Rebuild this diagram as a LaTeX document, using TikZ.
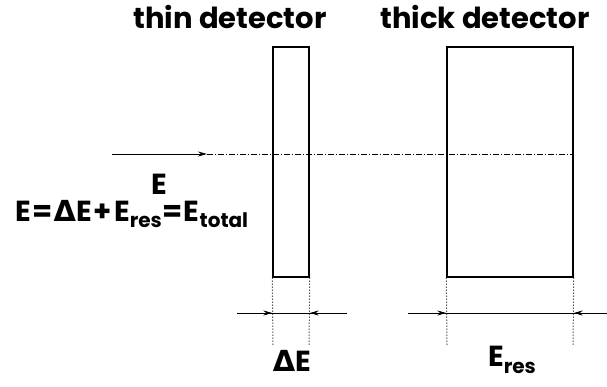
\documentclass[tikz,border=0pt]{standalone}
\usepackage{fontspec}
\setmainfont{Poppins}
\newfontfamily\deltafont{DejaVu Sans}
\usetikzlibrary{arrows.meta,positioning}
\newcommand{\lowsub}[1]{\raisebox{-0.4ex}{\fontsize{20}{20}\selectfont #1}}

\begin{document}
\begin{tikzpicture}[x=1pt,y=-1pt,font=\fontsize{29}{34}\selectfont\bfseries,
  >={Stealth[length=9pt,width=5pt]}]
\useasboundingbox (0,0) rectangle (607,386);
% detectors
\node[draw,line width=1.4pt,minimum width=36pt,minimum height=230pt,inner sep=0] (thin) at (291,162) {};
\node[draw,line width=1.4pt,minimum width=126pt,minimum height=230pt,inner sep=0] (thick) at (510,162) {};
\node (thintitle) at (230,17) {thin detector};
\node (thicktitle) at (485,17) {thick detector};

% incoming beam
\coordinate (src) at (112,154);
\coordinate (head) at (207,154);
\draw[->,line width=1pt] (src) -- (head);
\draw[dash pattern=on 6pt off 2pt on 1pt off 2pt,line width=1pt] (head) -- (thick.east |- head);
\node (e) at (159,184) {E};
\node (sum) at (132,214) {E\kern1pt=\kern1pt{\deltafont Δ}E\kern2pt+\kern2ptE\lowsub{res}\kern1pt=\kern1ptE\lowsub{total}};

% widths
\coordinate (thinl) at (273,345);
\coordinate (thinr) at (309,345);
\coordinate (thickl) at (447,345);
\coordinate (thickr) at (573,345);
\draw[dotted,line width=1pt] (thin.south west) -- (thinl);
\draw[dotted,line width=1pt] (thin.south east) -- (thinr);
\draw[dotted,line width=1pt] (thick.south west) -- (thickl);
\draw[dotted,line width=1pt] (thick.south east) -- (thickr);

\coordinate (a1) at (237,313);
\coordinate (a2) at (347,313);
\coordinate (b1) at (408,313);
\coordinate (b2) at (607,313);
\draw[line width=1pt] (a1) -- (a2);
\draw[line width=1pt] (b1) -- (b2);
\draw[->,line width=1pt] (a1) -- (thin.west |- a1);
\draw[->,line width=1pt] (a2) -- (thin.east |- a2);
\draw[->,line width=1pt] (b1) -- (thick.west |- b1);
\draw[->,line width=1pt] (b2) -- (thick.east |- b2);
\node (de) at (292,361) {{\deltafont Δ}E};
\node (eres) at (512,360) {E\lowsub{res}};
\end{tikzpicture}
\end{document}
